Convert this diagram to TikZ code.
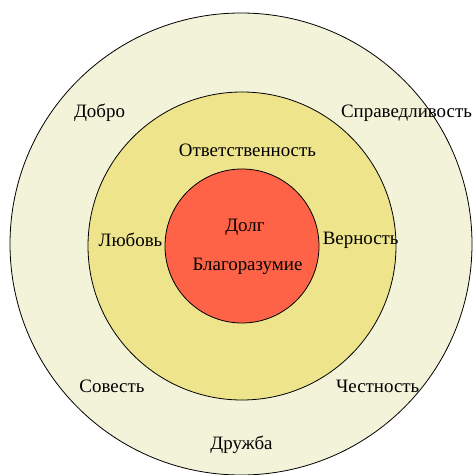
\documentclass[tikz,border=0pt]{standalone}
\usepackage{fontspec}
\setmainfont{Liberation Serif}
\definecolor{outerring}{HTML}{F3F3DA}
\definecolor{middlering}{HTML}{EEE48C}
\definecolor{core}{HTML}{FF6347}
\begin{document}
\begin{tikzpicture}[x=1bp,y=-1bp,
  ring/.style={draw=black,line width=0.8bp},
  word/.style={font=\fontsize{19}{22}\selectfont,inner sep=0pt,text=black}]
\useasboundingbox (0,0) rectangle (475,475);
\fill[white] (0,0) rectangle (475,475);
\coordinate (c) at (241,244);
\filldraw[ring,fill=outerring] (c) circle[radius=231];
\filldraw[ring,fill=middlering] (242,246) circle[radius=154];
\filldraw[ring,fill=core] (242,246) circle[radius=77];
\node[word] (dobro) at (99.5,113) {Добро};
\node[word] (sprav) at (406.5,113) {Справедливость};
\node[word] (otv) at (247.5,150) {Ответственность};
\node[word] (dolg) at (245,227) {Долг};
\node[word] (blago) at (247.5,266) {Благоразумие};
\node[word] (lyub) at (130.5,240) {Любовь};
\node[word] (vern) at (360.7,240) {Верность};
\node[word] (sov) at (112,386) {Совесть};
\node[word] (chest) at (377.7,386) {Честность};
\node[word] (druzh) at (241.5,445) {Дружба};
\end{tikzpicture}
\end{document}
